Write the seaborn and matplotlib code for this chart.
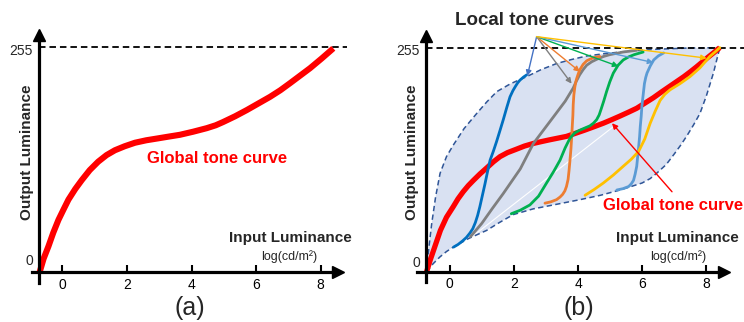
import matplotlib
matplotlib.use("Agg")
import matplotlib.pyplot as plt
import seaborn as sns

# ---------------- data ----------------
x_ticks = [0, 2, 4, 6, 8]
x_tick_labels = ["0", "2", "4", "6", "8"]
y_max_label = "255"
y_min_label = "0"

# panel (a): global tone curve
a_global_x = [-0.70, -0.58, -0.43, -0.28, -0.12, 0.04, 0.19, 0.40, 0.60, 0.85,
              1.11, 1.37, 1.63, 1.93, 2.25, 2.60, 2.97, 3.30, 3.64, 4.05,
              4.47, 4.75, 4.98, 5.35, 5.71, 6.07, 6.43, 6.75, 7.05, 7.36,
              7.67, 8.03, 8.39]
a_global_y = [0, 15, 29, 44.5, 59, 71, 82, 94, 104, 115.5,
              125, 132.5, 138, 142.5, 146.5, 149.3, 151.5, 153.5, 155.5, 159,
              163, 166.3, 170, 176.5, 183.5, 191, 198.5, 206, 214, 222.5,
              231, 242, 253.5]

# panel (b): global tone curve
b_global_x = [-0.72, -0.61, -0.45, -0.29, -0.10, 0.11, 0.26, 0.42, 0.58, 0.74,
              0.95, 1.15, 1.36, 1.57, 1.80, 2.05, 2.33, 2.61, 2.85, 3.10,
              3.37, 3.64, 3.92, 4.20, 4.50, 4.79, 5.05, 5.30, 5.57, 5.83,
              6.09, 6.35, 6.60, 6.86, 7.08, 7.30, 7.50, 7.69, 7.87, 8.05,
              8.24, 8.42]
b_global_y = [0, 13, 30, 47, 62, 74, 83, 91, 98, 104,
              111.5, 118, 125, 131, 135.5, 139, 143, 146, 148, 150,
              152, 154, 157.5, 161, 165, 169, 173, 177, 181.5, 186,
              192, 198, 204.5, 211, 216.5, 222, 227.5, 233, 238.5, 244,
              249.5, 255]

# envelope of local tone curves
env_upper_x = [-0.72, -0.65, -0.56, -0.44, -0.30, -0.10, 0.11, 0.45, 0.84, 1.15,
               1.47, 1.90, 2.40, 2.85, 3.34, 3.80, 4.27, 4.80, 5.31, 5.80,
               6.35, 7.40, 8.42]
env_upper_y = [0, 27, 55, 85, 112, 131, 144, 163, 180, 193,
               205, 214, 222, 230, 237, 241.5, 245.5, 248, 250, 251.5,
               253, 254.5, 255]
env_lower_x = [-0.72, -0.52, -0.30, -0.10, 0.11, 0.60, 1.15, 1.55, 1.98, 2.60,
               3.23, 4.06, 4.70, 5.31, 5.70, 6.00, 6.25, 6.45, 6.75, 7.00,
               7.20, 7.40, 7.60, 7.80, 8.00, 8.22, 8.42]
env_lower_y = [0, 9, 17, 23, 28, 38, 47, 56, 65, 71.5,
               76, 82, 87, 93, 97.5, 101, 106, 112, 122, 134,
               144, 155, 167, 180, 200, 226, 255]

# local tone curves
blue_x = [0.12, 0.26, 0.40, 0.52, 0.63, 0.72, 0.80, 0.87, 0.94, 1.02,
          1.10, 1.18, 1.26, 1.36, 1.46, 1.57, 1.67, 1.78, 1.88, 1.97,
          2.05, 2.12, 2.19, 2.30, 2.40]
blue_y = [28, 31, 35, 39, 44, 49, 56, 64, 74, 87,
          100, 114, 127, 137, 148, 161, 173, 187, 199, 206,
          211, 215, 218, 221.5, 224]
gray_x = [0.65, 1.00, 1.33, 1.67, 2.20, 2.61, 2.92, 3.23, 3.60, 3.85,
          3.95, 4.05, 4.16, 4.27, 4.43, 4.60, 4.80, 4.99, 5.40, 5.83]
gray_y = [40, 55, 72, 89, 117, 146, 161, 176, 194, 209,
          217, 224, 230, 235, 239, 242, 245, 247, 250, 252]
orange_x = [2.97, 3.15, 3.33, 3.44, 3.52, 3.59, 3.64, 3.69, 3.72, 3.75,
            3.78, 3.80, 3.82, 3.84, 3.85, 3.87, 3.90, 3.93, 3.96, 4.01,
            4.06, 4.16, 4.27, 4.47, 4.68]
orange_y = [78, 79.5, 82, 85, 88, 92, 97, 105, 115, 127,
            140, 152, 165, 178, 190, 201, 210, 216, 220, 225.5,
            230, 236, 240, 243.5, 245]
green_x = [1.92, 2.20, 2.50, 2.77, 3.02, 3.24, 3.44, 3.60, 3.75, 3.90,
           4.05, 4.21, 4.37, 4.48, 4.58, 4.66, 4.72, 4.80, 4.89, 4.99,
           5.10, 5.25, 5.41, 5.58, 5.75, 6.03]
green_y = [66, 70, 76, 86, 101, 114, 127, 141, 152, 158,
           161, 163.5, 166, 169, 173, 178.5, 185, 194, 205, 216,
           226, 235, 241, 244.5, 247, 250]
lblue_x = [5.21, 5.40, 5.58, 5.66, 5.73, 5.78, 5.83, 5.86, 5.89, 5.92,
           5.94, 5.97, 5.99, 6.03, 6.07, 6.11, 6.15, 6.25, 6.36, 6.50, 6.67]
lblue_y = [93, 94.5, 97, 100, 104, 111, 120, 131, 142, 154,
           165, 177, 188, 201, 214, 221, 226, 234, 241, 245.5, 249]
yellow_x = [4.22, 4.50, 4.79, 5.10, 5.41, 5.66, 5.89, 6.08, 6.25, 6.41,
            6.56, 6.71, 6.87, 7.18, 7.49, 7.80, 8.11, 8.27, 8.42]
yellow_y = [87, 93.5, 101, 110, 120, 128, 137, 151, 169, 183,
            195, 202, 207, 214, 222, 232, 245, 250, 255]

# faint diagonal inside the envelope
diag_x = [0.70, 5.10]
diag_y = [40, 165]

# arrows from the "Local tone curves" label
arrow_src = (2.71, 267.5)
arrow_tx = [2.42, 3.80, 4.06, 5.26, 6.35, 8.01]
arrow_ty = [222.7, 214, 227.6, 233.7, 238, 243]
arrow_colors = ["#4472c4", "#7f7f7f", "#ed7d31", "#00b050", "#5b9bd5", "#ffc000"]

# red annotation arrow in (b)
red_arrow_from = (6.93, 91)
red_arrow_to = (5.06, 169)

# ---------------- style ----------------
sns.set_theme(style="white")
plt.rcParams["font.family"] = ["Liberation Sans", "DejaVu Sans"]

RED = "#ff0000"
ENV = "#2f5597"
FILL = "#d9e1f2"

fig = plt.figure(figsize=(7.44, 3.22), dpi=100)
ax_a = fig.add_axes([0.0, 0.0, 0.5, 1.0])
ax_b = fig.add_axes([0.5, 0.0, 0.5, 1.0])


def setup(ax, xlim, ylim, yax_x, xax_left, xax_tip_center, y_bottom, dash_end):
    ax.set_xlim(*xlim)
    ax.set_ylim(*ylim)
    ax.set_facecolor("none")
    for s in ["top", "right"]:
        ax.spines[s].set_visible(False)
    ax.spines["left"].set_position(("data", yax_x))
    ax.spines["bottom"].set_position(("data", 0))
    ax.spines["left"].set_bounds(y_bottom, 266)
    ax.spines["bottom"].set_bounds(xax_left, xax_tip_center)
    for s in ["left", "bottom"]:
        ax.spines[s].set_color("black")
        ax.spines[s].set_linewidth(2.3)
    ax.set_yticks([])
    ax.set_xticks(x_ticks)
    ax.set_xticklabels(x_tick_labels)
    ax.tick_params(axis="x", direction="in", length=5, width=1.5,
                   pad=4, labelsize=10, colors="black", bottom=True)
    # arrow heads
    ax.plot([yax_x], [268.5], marker="^", markersize=8, color="black", clip_on=False)
    ax.plot([xax_tip_center], [0], marker=">", markersize=8, color="black", clip_on=False)
    # 255 dashed line
    ax.plot([yax_x, dash_end], [255, 255], color="black", lw=1.3,
            linestyle=(0, (3.6, 2.2)), zorder=1)


# ---------------- panel (a) ----------------
setup(ax_a, (-1.929, 9.588), (-56.7, 308.3), -0.71, -0.94, 8.52, -12.5, 8.8)
sns.lineplot(x=a_global_x, y=a_global_y, ax=ax_a, sort=False, estimator=None,
             color=RED, linewidth=4.4, solid_capstyle="butt", solid_joinstyle="round")
ax_a.text(-0.91, 250, y_max_label, ha="right", va="center", fontsize=10)
ax_a.text(-0.91, 12.5, y_min_label, ha="right", va="center", fontsize=10)
ax_a.text(-1.08, 136, "Output Luminance", rotation=90, ha="center", va="center",
          fontsize=11, fontweight="bold")
ax_a.text(2.61, 129, "Global tone curve", ha="left", va="center",
          fontsize=12, fontweight="bold", color=RED)
ax_a.text(8.97, 38.5, "Input Luminance", ha="right", va="center",
          fontsize=11, fontweight="bold")
ax_a.text(7.03, 17, "log(cd/m²)", ha="center", va="center", fontsize=9)
ax_a.text(3.95, -41, "(a)", ha="center", va="center", fontsize=18)

# ---------------- panel (b) ----------------
setup(ax_b, (-2.422, 9.174), (-57.2, 309.2), -0.74, -1.02, 8.55, -11.7, 9.174)

env_poly_x = env_upper_x + env_lower_x[::-1]
env_poly_y = env_upper_y + env_lower_y[::-1]
ax_b.fill(env_poly_x, env_poly_y, color=FILL, lw=0, zorder=0.5)
ax_b.plot(diag_x, diag_y, color="white", lw=0.8, zorder=0.6)
for ex, ey in [(env_upper_x, env_upper_y), (env_lower_x, env_lower_y)]:
    sns.lineplot(x=ex, y=ey, ax=ax_b, sort=False, estimator=None, color=ENV,
                 linewidth=1.1, linestyle=(0, (3.5, 2.2)), zorder=0.7)

sns.lineplot(x=b_global_x, y=b_global_y, ax=ax_b, sort=False, estimator=None,
             color=RED, linewidth=3.8, solid_capstyle="butt",
             solid_joinstyle="round", zorder=2)

local_curves = [
    (blue_x, blue_y, "#0070c0"),
    (gray_x, gray_y, "#7f7f7f"),
    (orange_x, orange_y, "#ed7d31"),
    (green_x, green_y, "#00b050"),
    (lblue_x, lblue_y, "#5b9bd5"),
    (yellow_x, yellow_y, "#ffc000"),
]
for cx, cy, col in local_curves:
    sns.lineplot(x=cx, y=cy, ax=ax_b, sort=False, estimator=None, color=col,
                 linewidth=2.0, solid_capstyle="round", solid_joinstyle="round", zorder=3)

for tx, ty, col in zip(arrow_tx, arrow_ty, arrow_colors):
    ax_b.annotate("", xy=(tx, ty), xytext=arrow_src,
                  arrowprops=dict(arrowstyle="-|>", color=col, lw=1.0,
                                  mutation_scale=8, shrinkA=0, shrinkB=0),
                  zorder=4)

ax_b.annotate("", xy=red_arrow_to, xytext=red_arrow_from,
              arrowprops=dict(arrowstyle="-|>", color=RED, lw=1.0,
                              mutation_scale=8, shrinkA=0, shrinkB=0), zorder=4)

ax_b.text(2.66, 286.4, "Local tone curves", ha="center", va="center",
          fontsize=13.5, fontweight="bold", color="#262626")
ax_b.text(-0.93, 251.5, y_max_label, ha="right", va="center", fontsize=10)
ax_b.text(-0.93, 9.9, y_min_label, ha="right", va="center", fontsize=10)
ax_b.text(-1.18, 136, "Output Luminance", rotation=90, ha="center", va="center",
          fontsize=11, fontweight="bold")
ax_b.text(4.78, 75.9, "Global tone curve", ha="left", va="center",
          fontsize=12, fontweight="bold", color=RED)
ax_b.text(9.02, 38.4, "Input Luminance", ha="right", va="center",
          fontsize=11, fontweight="bold")
ax_b.text(7.12, 17, "log(cd/m²)", ha="center", va="center", fontsize=9)
ax_b.text(4.02, -41, "(b)", ha="center", va="center", fontsize=18)

fig.savefig("out.png", dpi=100)
